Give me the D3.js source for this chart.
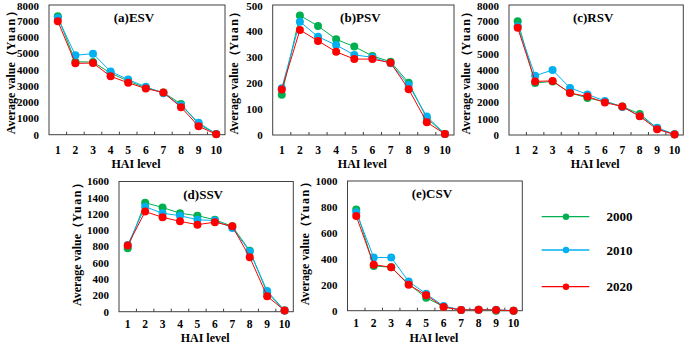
<!DOCTYPE html>
<html><head><meta charset="utf-8">
<script src="https://cdn.jsdelivr.net/npm/d3@7"></script>
<style>
html,body{margin:0;padding:0;background:#fff;}
svg{display:block;}
text{font-family:"Liberation Serif","Times New Roman",serif;font-weight:bold;fill:#000;}
</style></head>
<body>
<svg id="chart" width="685" height="345"></svg>
<script>
// ---- data ----
const levels = ["1","2","3","4","5","6","7","8","9","10"];
const years = ["2000","2010","2020"];
const panelTitles = ["(a)ESV","(b)PSV","(c)RSV","(d)SSV","(e)CSV"];
const yMax = [8000, 500, 8000, 1600, 1000];
const yStep = [1000, 100, 1000, 200, 200];

const esv2000 = [7300, 4500, 4480, 3800, 3300, 2900, 2600, 1900, 650, 50];
const esv2010 = [7200, 4900, 5000, 3900, 3400, 2950, 2560, 1800, 740, 50];
const esv2020 = [7000, 4400, 4420, 3600, 3200, 2850, 2600, 1700, 520, 30];

const psv2000 = [155, 460, 419, 368, 340, 304, 282, 201, 64, 4];
const psv2010 = [180, 436, 378, 346, 308, 299, 276, 192, 71, 4];
const psv2020 = [175, 404, 362, 320, 292, 292, 278, 176, 49, 4];

const rsv2000 = [7000, 3200, 3300, 2600, 2280, 2050, 1750, 1300, 410, 40];
const rsv2010 = [6700, 3650, 4000, 2900, 2500, 2100, 1730, 1170, 450, 40];
const rsv2020 = [6600, 3300, 3330, 2580, 2370, 2000, 1750, 1150, 350, 30];

const ssv2000 = [780, 1340, 1280, 1210, 1180, 1130, 1050, 750, 235, 15];
const ssv2010 = [820, 1290, 1210, 1180, 1130, 1120, 1030, 740, 255, 15];
const ssv2020 = [815, 1230, 1160, 1110, 1070, 1100, 1050, 670, 190, 15];

const csv2000 = [780, 345, 335, 205, 100, 31, 5, 8, 0, 0];
const csv2010 = [760, 410, 410, 225, 130, 36, 5, 8, 8, 0];
const csv2020 = [730, 355, 335, 200, 120, 28, 5, 8, 5, 0];

const panelData = [
  [esv2000, esv2010, esv2020],
  [psv2000, psv2010, psv2020],
  [rsv2000, rsv2010, rsv2020],
  [ssv2000, ssv2010, ssv2020],
  [csv2000, csv2010, csv2020]
];

// ---- layout / style ----
const colors = ["#00b050", "#00b0f0", "#ff0000"];
const boxes = [
  {x0:49,   x1:225,   y0:5, y1:134.7, tX:11},
  {x0:272.7,x1:454,   y0:5, y1:135,   tX:234},
  {x0:509,  x1:683.3, y0:5, y1:135,   tX:466},
  {x0:119,  x1:293.3, y0:181.5, y1:311.7, tX:77},
  {x0:347.5,x1:522.3, y0:181,   y1:310.7, tX:305}
];

const svg = d3.select("#chart");

boxes.forEach((b, i) => {
  const x = d3.scaleBand().domain(levels).range([b.x0, b.x1]);
  const y = d3.scaleLinear().domain([0, yMax[i]]).range([b.y1, b.y0]);
  const g = svg.append("g");

  // frame
  g.append("rect").attr("x", b.x0).attr("y", b.y0)
    .attr("width", b.x1 - b.x0).attr("height", b.y1 - b.y0)
    .attr("fill", "none").attr("stroke", "#404040").attr("stroke-width", 1);

  // x inner ticks at band boundaries
  levels.slice(1).forEach(l => {
    const xx = x(l);
    g.append("line").attr("x1", xx).attr("x2", xx)
      .attr("y1", b.y1).attr("y2", b.y1 - 3)
      .attr("stroke", "#404040").attr("stroke-width", 1);
  });

  // x tick labels
  g.selectAll(".xl").data(levels).enter().append("text")
    .attr("x", d => x(d) + x.bandwidth() / 2)
    .attr("y", b.y1 + (i >= 3 ? 16 : 19))
    .attr("text-anchor", "middle")
    .attr("font-size", 11.5)
    .text(d => d);

  // y tick labels
  const ticks = d3.range(0, yMax[i] + 1e-9, yStep[i]);
  g.selectAll(".yl").data(ticks).enter().append("text")
    .attr("x", b.x0 - 10)
    .attr("y", d => Math.max(y(d), 6.5))
    .attr("dy", "0.35em")
    .attr("text-anchor", "end")
    .attr("font-size", 11)
    .text(d => d);

  // x title
  g.append("text")
    .attr("x", (b.x0 + b.x1) / 2 - 1)
    .attr("y", Math.min(b.y1 + 33, 341.5))
    .attr("text-anchor", "middle")
    .attr("font-size", 12)
    .text("HAI level");

  // y title
  const cy = (b.y0 + b.y1) / 2 - (i >= 3 ? 5 : 0);
  const yt = g.append("text")
    .attr("transform", `translate(${b.tX},${cy}) rotate(-90)`)
    .attr("text-anchor", "middle")
    .attr("dy", "0.35em")
    .attr("font-size", 12);
  yt.append("tspan").text("Average value（");
  yt.append("tspan").attr("letter-spacing", "1.5px").text("Yuan");
  yt.append("tspan").text("）");

  // panel title
  g.append("text")
    .attr("x", (b.x0 + b.x1) / 2 - 3)
    .attr("y", b.y0 + 17)
    .attr("text-anchor", "middle")
    .attr("font-size", 13)
    .text(panelTitles[i]);

  // series
  const line = d3.line().x((d, k) => x(levels[k]) + x.bandwidth() / 2).y(d => y(d));
  panelData[i].forEach((vals, s) => {
    g.append("path").datum(vals).attr("d", line)
      .attr("fill", "none").attr("stroke", colors[s]).attr("stroke-width", 1);
    g.selectAll(".pt" + s).data(vals).enter().append("circle")
      .attr("cx", (d, k) => x(levels[k]) + x.bandwidth() / 2)
      .attr("cy", d => y(d))
      .attr("r", 4)
      .attr("fill", colors[s]);
  });
});

// legend
const legPos = [216.7, 250, 286.7];
const lg = svg.append("g");
years.forEach((yr, s) => {
  const yy = legPos[s];
  lg.append("line").attr("x1", 541.7).attr("x2", 589.3).attr("y1", yy).attr("y2", yy)
    .attr("stroke", colors[s]).attr("stroke-width", s === 1 ? 2 : 1.2)
    .attr("stroke-opacity", s === 1 ? 0.75 : 1);
  lg.append("circle").attr("cx", 566).attr("cy", yy).attr("r", 3.2).attr("fill", colors[s]);
  lg.append("text").attr("x", 606.5).attr("y", yy).attr("dy", "0.35em")
    .attr("font-size", 13).text(yr);
});
</script>
</body></html>
